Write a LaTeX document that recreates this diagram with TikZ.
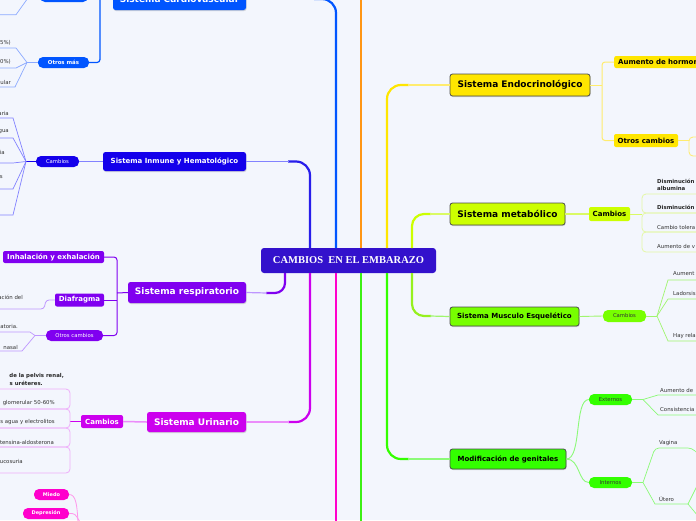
\documentclass[tikz,border=0pt]{standalone}
\usepackage{fontspec}
\setmainfont{DejaVu Sans}
\newfontfamily\serifbold{Liberation Serif}
\usetikzlibrary{shadows}
\definecolor{bg}{RGB}{243,246,253}
\definecolor{cvblue}{RGB}{0,85,255}
\definecolor{cvlight}{RGB}{140,170,255}
\definecolor{imblue}{RGB}{20,0,235}
\definecolor{imtrunk}{RGB}{40,30,235}
\definecolor{imlight}{RGB}{130,130,255}
\definecolor{respurple}{RGB}{128,0,240}
\definecolor{reslight}{RGB}{190,150,255}
\definecolor{urmag}{RGB}{204,0,238}
\definecolor{urlight}{RGB}{235,140,250}
\definecolor{urbox}{RGB}{238,175,250}
\definecolor{hotpink}{RGB}{255,0,204}
\definecolor{pinklight}{RGB}{255,150,235}
\definecolor{central}{RGB}{51,17,204}
\definecolor{orangeb}{RGB}{255,150,20}
\definecolor{endoy}{RGB}{255,230,0}
\definecolor{endlight}{RGB}{255,236,110}
\definecolor{metg}{RGB}{204,255,0}
\definecolor{metlight}{RGB}{218,250,100}
\definecolor{metbox}{RGB}{228,248,165}
\definecolor{musg}{RGB}{119,255,0}
\definecolor{mustrunk}{RGB}{150,240,30}
\definecolor{muslight}{RGB}{160,245,110}
\definecolor{geng}{RGB}{51,255,0}
\definecolor{gentrunk}{RGB}{60,240,20}
\definecolor{genlight}{RGB}{140,250,120}
\definecolor{leafc}{RGB}{50,50,50}
\tikzset{
  sysbox/.style={rounded corners=2.5pt, inner sep=0pt, font=\bfseries\fontsize{9}{10}\selectfont,
    drop shadow={shadow xshift=0.6pt, shadow yshift=-1pt, opacity=0.3}},
  sysleft/.style={sysbox, text=white},
  sysright/.style={sysbox, text=black, draw=black!70, line width=0.8pt},
  subbox/.style={rounded corners=2pt, inner sep=0pt, font=\bfseries\fontsize{7}{8}\selectfont},
  pillbox/.style={rounded corners=5pt, inner sep=0pt, font=\fontsize{5.3}{6}\selectfont},
  leaftext/.style={inner sep=0pt, font=\fontsize{5.4}{6.5}\selectfont, text=leafc},
  leafbold/.style={inner sep=0pt, font=\bfseries\fontsize{5.4}{6.5}\selectfont, text=black!85},
  trunkline/.style={line width=2.2pt, rounded corners=14pt},
  twigline/.style={line width=0.7pt},
}
\begin{document}
\begin{tikzpicture}[x=1pt,y=-1pt]
\path[use as bounding box, fill=bg] (0,0) rectangle (696,520);
\begin{scope}
\clip (0,0) rectangle (696,520);

% ---------- nodes ----------
\node[fill=central, text=white, rounded corners=3pt, inner sep=0pt, minimum width=175pt, minimum height=25pt,
  font=\serifbold\bfseries\fontsize{10.5}{12}\selectfont] (root) at (348.5,260.5) {CAMBIOS\ \ EN EL EMBARAZO};

% left systems
\node[sysleft, fill=cvblue, minimum width=133pt, minimum height=22pt] (cv) at (179.5,-1) {Sistema Cardiovascular};
\node[sysleft, fill=imblue, minimum width=143pt, minimum height=19pt, font=\bfseries\fontsize{7}{8}\selectfont] (im) at (174.5,161.5) {Sistema Inmune y Hematológico};
\node[sysleft, fill=respurple, minimum width=118pt, minimum height=21pt] (res) at (187,292.5) {Sistema respiratorio};
\node[sysleft, fill=urmag, minimum width=99pt, minimum height=20pt] (ur) at (196.5,422) {Sistema Urinario};

% right systems
\node[sysright, fill=endoy, minimum width=140pt, minimum height=22pt] (endo) at (520,85) {Sistema Endocrinológico};
\node[sysright, fill=metg, minimum width=115pt, minimum height=22pt] (met) at (507.5,214) {Sistema metabólico};
\node[sysright, fill=musg, minimum width=129pt, minimum height=19pt, font=\bfseries\fontsize{7}{8}\selectfont] (mus) at (514.5,316.5) {Sistema Musculo Esquelético};
\node[sysright, fill=geng, minimum width=116pt, minimum height=20pt, font=\bfseries\fontsize{7}{8}\selectfont] (gen) at (508,459) {Modificación de genitales};

% ---------- trunks ----------
\draw[trunkline, cvblue] (336,248) -- (336,-1) -- (314,-1);
\draw[cvlight, line width=1.2pt] (315,-1) -- (cv.east);
\draw[trunkline, imtrunk] (310,248) -- (310,161.5) -- (288,161.5);
\draw[imlight, line width=1.2pt] (289,161.5) -- (im.east);
\draw[trunkline, respurple, rounded corners=10pt] (285,273) -- (285,293) -- (266,293);
\draw[reslight, line width=1.2pt] (267,293) -- (res.east);
\draw[trunkline, urmag] (310,273) -- (310,422) -- (288,422);
\draw[urlight, line width=1.2pt] (289,422) -- (ur.east);
\draw[trunkline, hotpink] (336,273) -- (336,525);
\draw[trunkline, orangeb] (361,248) -- (361,-5);
\draw[trunkline, gentrunk] (361,273) -- (361,525);
\draw[trunkline, endoy] (387,248) -- (387,85) -- (409,85);
\draw[endlight, line width=1.2pt] (408,85) -- (endo.west);
\draw[trunkline, metg, rounded corners=12pt] (412,248) -- (412,214) -- (431,214);
\draw[metlight, line width=1.2pt] (430,214) -- (met.west);
\draw[trunkline, mustrunk, rounded corners=12pt] (412,273) -- (412,316) -- (431,316);
\draw[muslight, line width=1.2pt] (430,316) -- (mus.west);
\draw[trunkline, geng] (387,273) -- (387,459) -- (409,459);
\draw[genlight, line width=1.2pt] (408,459) -- (gen.west);

% ---------- Cardiovascular ----------
\node[pillbox, fill=cvblue, minimum width=48pt, minimum height=11pt] (cvtop) at (64,-3.5) {};
\node[pillbox, fill=cvblue, text=white, font=\bfseries\fontsize{5.4}{6}\selectfont, minimum width=51pt, minimum height=11pt] (cvom) at (63.5,62.5) {Otros más};
\draw[cvblue, line width=1.2pt, rounded corners=3pt] (cvom.east) -- (100,62.5) -- (100,-3.5) -- (cvtop.east);
\draw[cvblue, line width=1.2pt] (cv.west) -- (100,-1);
\coordinate (cvh) at (27,62.5);
\draw[cvlight, twigline] (cvtop.west) -- (29,-3.5) -- (16,14.7) -- (0,14.7);
\draw[cvlight, twigline] (cvom.west) -- (cvh) -- (16,48) -- (0,48);
\draw[cvlight, twigline] (cvh) -- (16,68) -- (0,68);
\draw[cvlight, twigline] (cvh) -- (15,87) -- (0,87);
\node[leaftext, anchor=east] (cvl1) at (11,43) {5\%)};
\node[leaftext, anchor=east] (cvl2) at (11,62) {0\%)};
\node[leaftext, anchor=east] (cvl3) at (11,82) {ular};

% ---------- Inmune ----------
\node[pillbox, fill=imblue, text=white, minimum width=43pt, minimum height=11pt] (imc) at (57.5,161.5) {Cambios};
\draw[imlight, line width=0.9pt] (imc.east) -- (im.west);
\coordinate (imh) at (26,161.5);
\draw[imblue, line width=0.9pt] (imc.west) -- (imh);
\foreach \yy in {118,138,163,189,215} {\draw[imlight, twigline] (imh) -- (13,\yy) -- (0,\yy);}
\node[leaftext, anchor=east] (iml1) at (9,113) {aria};
\node[leaftext, anchor=east] (iml2) at (9,132) {gua};
\node[leaftext, anchor=east] (iml3) at (5,152) {ia};
\node[leaftext, anchor=east] (iml4) at (3,177) {s};

% ---------- Respiratorio ----------
\node[subbox, fill=respurple, text=white, minimum width=101pt, minimum height=12pt] (inh) at (53.5,257) {Inhalación y exhalación};
\node[subbox, fill=respurple, text=white, minimum width=49pt, minimum height=13pt] (dia) at (79.5,300) {Diafragma};
\node[pillbox, fill=respurple, text=white, minimum width=57pt, minimum height=11pt] (otc) at (74.5,335.5) {Otros cambios};
\draw[respurple, line width=1pt, rounded corners=3pt] (inh.east) -- (117,257) -- (117,335.5) -- (otc.east);
\draw[respurple, line width=1pt] (dia.east) -- (117,300);
\draw[respurple, line width=1pt] (117,293) -- (res.west);
\draw[reslight, line width=0.8pt, rounded corners=3pt] (dia.west) -- (46,300) -- (44,309) -- (0,309);
\node[leaftext, anchor=east] (rl1) at (23,297) {ación del};
\coordinate (rh) at (35,335.5);
\draw[reslight, twigline] (otc.west) -- (rh) -- (30,332) -- (0,332);
\draw[reslight, twigline] (rh) -- (22,351) -- (0,351);
\node[leaftext, anchor=east] (rl2) at (18,326) {atoria.};
\node[leaftext, anchor=east] (rl3) at (18,347) {nasal};

% ---------- Urinario ----------
\node[subbox, fill=urmag, text=white, minimum width=42pt, minimum height=13pt] (urc) at (102,421.5) {Cambios};
\draw[urlight, line width=1.5pt] (urc.east) -- (ur.west);
\draw[urmag, line width=1.5pt] (urc.west) -- (70,421.5);
\foreach \ya/\yb in {389/409,409/428,428/447,447/473}
  {\draw[urbox, line width=0.8pt, rounded corners=4pt] (-5,\ya) -- (70,\ya) -- (70,\yb) -- (-5,\yb);}
\node[leafbold, anchor=east] (ul0a) at (64,376) {de la pelvis renal,};
\node[leafbold, anchor=east] (ul0b) at (43,383) {s uréteres.};
\node[leaftext, anchor=east] (ul1) at (55,403) {glomerular 50-60\%};
\node[leaftext, anchor=east] (ul2) at (55,422) {s agua y electrolitos};
\node[leaftext, anchor=east] (ul3) at (54,442) {tensina-aldosterona};
\node[leaftext, anchor=east] (ul4) at (23,461) {ucosuria};

% ---------- emotions ----------
\node[pillbox, fill=hotpink, text=white, font=\bfseries\fontsize{5}{6}\selectfont, minimum width=35pt, minimum height=11pt] (miedo) at (51.5,494.5) {Miedo};
\node[pillbox, fill=hotpink, text=white, font=\bfseries\fontsize{5}{6}\selectfont, minimum width=46pt, minimum height=11pt] (dep) at (46,513.5) {Depresión};
\draw[pinklight, line width=0.8pt] (miedo.east) .. controls (76,494.5) and (77,505) .. (78,522);
\draw[pinklight, line width=0.8pt] (dep.east) .. controls (75,513.5) .. (80,522);

% ---------- Endocrino ----------
\node[subbox, fill=endoy, text=black, anchor=west, text width=100pt, inner xsep=4pt, align=left, minimum height=12pt] (aum) at (614,62) {Aumento de hormon};
\node[subbox, fill=endoy, text=black, minimum width=64pt, minimum height=13pt] (otr) at (646,140.5) {Otros cambios};
\draw[endlight, line width=1pt, rounded corners=3pt] (aum.west) -- (602,62) -- (602,140.5) -- (otr.west);
\draw[endlight, line width=1pt] (endo.east) -- (602,85);
\draw[endlight, line width=1pt] (otr.east) -- (689,140.5);
\draw[endlight, line width=0.8pt, rounded corners=4pt] (700,137) -- (689,137) -- (689,156) -- (700,156);

% ---------- Metabolico ----------
\node[subbox, fill=metg, text=black, minimum width=41pt, minimum height=14pt] (metc) at (609.5,214) {Cambios};
\draw[metlight, line width=1.5pt] (met.east) -- (metc.west);
\draw[metlight, line width=1pt] (metc.east) -- (642,214);
\foreach \ya/\yb in {194/213,213/232,232/252}
  {\draw[metbox, line width=0.8pt, rounded corners=4pt] (700,\ya) -- (642,\ya) -- (642,\yb) -- (700,\yb);}
\node[leafbold, anchor=west] (ml1) at (657,181) {Disminución};
\node[leafbold, anchor=west] (ml1b) at (657,188) {albumina};
\node[leafbold, anchor=west] (ml2) at (657,207) {Disminución};
\node[leaftext, anchor=west] (ml3) at (657,227) {Cambio tolera};
\node[leaftext, anchor=west] (ml4) at (657,246) {Aumento de v};

% ---------- Musculo ----------
\node[pillbox, fill=musg, text=black!80, minimum width=43pt, minimum height=12pt] (musc) at (624.5,316) {Cambios};
\draw[muslight, line width=0.9pt] (mus.east) -- (musc.west);
\coordinate (mh) at (657,316);
\draw[muslight, line width=0.9pt] (musc.east) -- (mh);
\draw[muslight, twigline] (mh) -- (668,280) -- (700,280);
\draw[muslight, twigline] (mh) -- (668,299) -- (700,299);
\draw[muslight, twigline] (mh) -- (668,341) -- (700,341);
\node[leaftext, anchor=west] (msl1) at (673,274) {Aument};
\node[leaftext, anchor=west] (msl2) at (673,293) {Ladorsis};
\node[leaftext, anchor=west] (msl3) at (673,336) {Hay rela};

% ---------- Genitales ----------
\node[pillbox, fill=geng, text=black!80, minimum width=43pt, minimum height=11pt] (ext) at (610.5,399.5) {Externos};
\node[pillbox, fill=geng, text=black!80, minimum width=43pt, minimum height=11pt] (int) at (610.5,482.5) {Internos};
\draw[genlight, line width=0.9pt] (gen.east) .. controls (582,459) and (574,399.5) .. (ext.west);
\draw[genlight, line width=0.9pt] (gen.east) .. controls (580,459) and (578,482.5) .. (int.west);
\coordinate (eh) at (643,399.5);
\coordinate (ih) at (643,482.5);
\draw[genlight, line width=0.9pt] (ext.east) -- (eh);
\draw[genlight, line width=0.9pt] (int.east) -- (ih);
\draw[genlight, twigline] (eh) -- (658,395) -- (700,395);
\draw[genlight, twigline] (eh) -- (658,415) -- (700,415);
\draw[genlight, twigline, rounded corners=4pt] (ih) -- (655,448) -- (692,448) -- (700,456);
\draw[genlight, twigline] (ih) -- (655,504) -- (688,504);
\draw[genlight, twigline] (688,504) -- (698,484);
\draw[genlight, twigline] (688,504) -- (698,516);
\node[leaftext, anchor=west] (gl1) at (660,390) {Aumento de};
\node[leaftext, anchor=west] (gl2) at (660,409) {Consistencia};
\node[leaftext, anchor=west] (gl3) at (659,443) {Vagina};
\node[leaftext, anchor=west] (gl4) at (659,499) {Útero};
\end{scope}
\end{tikzpicture}
\end{document}
